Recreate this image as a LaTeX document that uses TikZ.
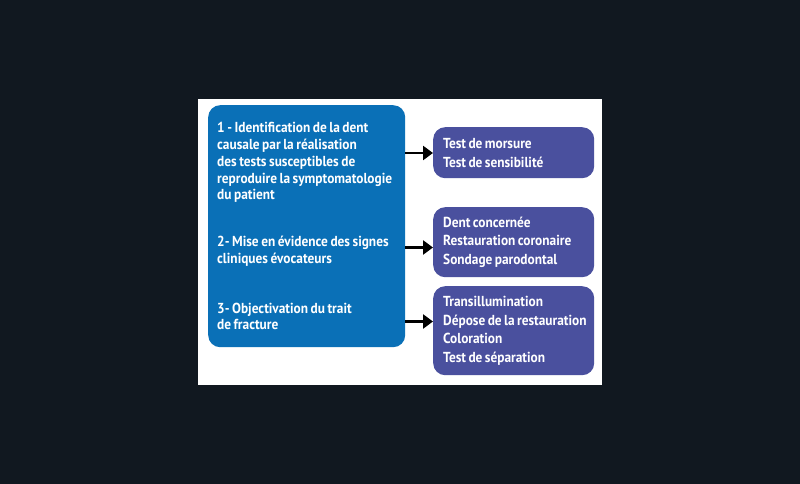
\documentclass[tikz,border=0pt]{standalone}
\usepackage{fontspec}
\setmainfont{PT Sans}[FakeStretch=0.92,WordSpace=0.75]
\usepackage{tikz}
\usetikzlibrary{arrows.meta}
\definecolor{pagedark}{RGB}{17,24,32}
\definecolor{causeblue}{RGB}{10,112,183}
\definecolor{testpurple}{RGB}{74,80,158}
\newcommand{\tightspaces}{\spaceskip=2.4pt plus 1pt\relax}
\tikzset{
	causebox/.style={fill=causeblue,rounded corners=12pt},
	testbox/.style={fill=testpurple,rounded corners=12pt,text=white,align=left,
		minimum width=161pt,text width=141pt,inner xsep=10pt,inner ysep=0pt,anchor=north west,
		font=\bfseries\fontsize{14.5}{18.7}\selectfont,execute at begin node=\tightspaces},
	causetext/.style={text=white,align=left,inner sep=0pt,anchor=west,
		font=\bfseries\fontsize{14.5}{16.8}\selectfont},
	arrow/.style={-{Triangle[length=10pt,width=14pt]},line width=2.7pt}
}

\begin{document}
\begin{tikzpicture}[x=1pt,y=-1pt]
	\fill[pagedark] (0,0) rectangle (800,484);
	\useasboundingbox (0,0) rectangle (800,484);
	\fill[white] (198,99) rectangle (602,385);
	
	\node[causebox,minimum width=197pt,minimum height=242pt,anchor=north west] (cause) at (208,105) {};
	\node[causetext] (step1) at (217,162.5) {1 - Identification de la dent\\causale par la réalisation\\des tests susceptibles de\\reproduire la symptomatologie\\du patient};
	\node[causetext] (step2) at (217,251) {2- Mise en évidence des signes\\cliniques évocateurs};
	\node[causetext] (step3) at (217,316.5) {3- Objectivation du trait\\de fracture};
	
	\node[testbox,minimum height=51pt] (test1) at (433,127) {Test de morsure\\Test de sensibilité};
	\node[testbox,minimum height=70pt] (test2) at (433,207) {Dent concernée\\Restauration coronaire\\Sondage parodontal};
	\node[testbox,minimum height=89pt] (test3) at (433,286) {Transillumination\\\mbox{Dépose de la restauration}\\Coloration\\Test de séparation};
	
	\foreach \t/\y in {test1/153,test2/247.5,test3/321.5}
	{
		\draw[arrow] (cause.east |- 0,\y) -- (\t.west |- 0,\y);
	}
\end{tikzpicture}
\end{document}
